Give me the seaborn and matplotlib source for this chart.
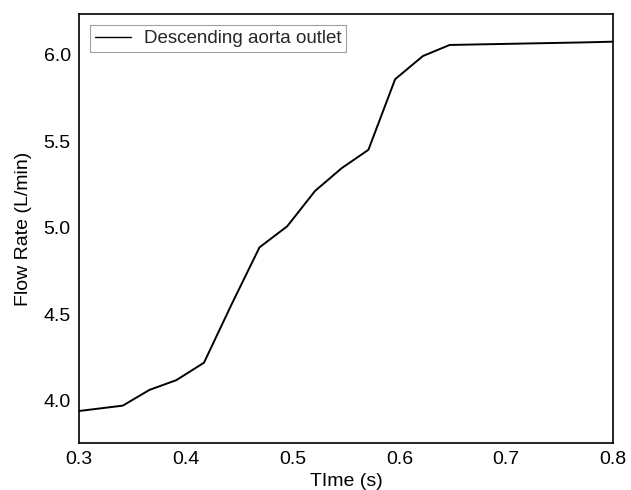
import matplotlib
matplotlib.use("Agg")
import matplotlib.pyplot as plt
import seaborn as sns
import pandas as pd

time_s = [0.300, 0.341, 0.366, 0.391, 0.417, 0.443, 0.469, 0.495, 0.521, 0.546,
          0.571, 0.596, 0.622, 0.647, 0.672, 0.698, 0.723, 0.749, 0.774, 0.800]
flow_lpm = [3.942, 3.973, 4.064, 4.120, 4.221, 4.560, 4.888, 5.010, 5.214, 5.346,
            5.452, 5.860, 5.994, 6.058, 6.061, 6.064, 6.067, 6.070, 6.073, 6.077]
series_name = "Descending aorta outlet"

df = pd.DataFrame({"Time": time_s, "Flow": flow_lpm, "Series": series_name})

sns.set_theme(style="white")
plt.rcParams["font.family"] = ["Liberation Sans", "DejaVu Sans"]

fig = plt.figure(figsize=(6.31, 4.90), dpi=100)
ax = fig.add_axes([79/631, 1-443/490, (613-79)/631, (443-14)/490])

sns.lineplot(data=df, x="Time", y="Flow", hue="Series", palette=["black"],
             linewidth=1.4, ax=ax)

ax.set_xlim(0.3, 0.8)
ax.set_ylim(3.757, 6.237)
ax.set_xticks([0.3, 0.4, 0.5, 0.6, 0.7, 0.8])
ax.set_yticks([4.0, 4.5, 5.0, 5.5, 6.0])
ax.tick_params(axis="both", labelsize=14, length=0, pad=6, colors="black")
ax.set_xlabel("TIme (s)", fontsize=14, color="black", labelpad=3)
ax.set_ylabel("Flow Rate (L/min)", fontsize=14, color="black", labelpad=8)
for s in ax.spines.values():
    s.set_color("black")
    s.set_linewidth(1.2)

leg = ax.legend(loc="upper left", fontsize=13.5, frameon=True, fancybox=False,
                edgecolor="#888888", borderpad=0.25, handlelength=1.9,
                handletextpad=0.7, borderaxespad=0.6)
leg.get_frame().set_linewidth(0.8)
for h in leg.get_lines():
    h.set_linewidth(1.0)

fig.savefig("out.png", dpi=100)
